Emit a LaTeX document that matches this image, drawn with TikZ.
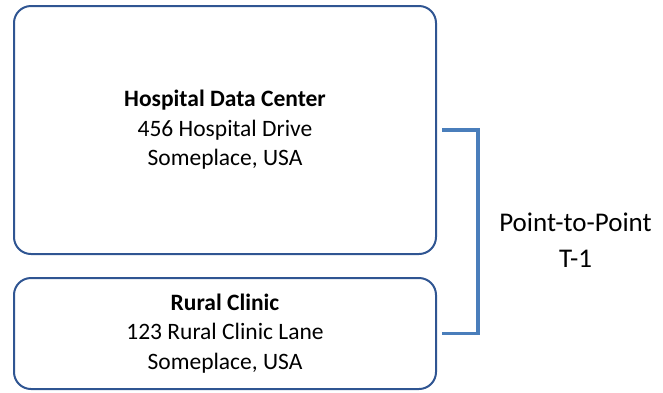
\documentclass[tikz,border=0pt]{standalone}
\usepackage{fontspec}
\setmainfont{Carlito}
\definecolor{boxblue}{HTML}{2F5592}
\definecolor{connblue}{HTML}{4A7EBB}
\begin{document}
\begin{tikzpicture}[x=1pt,y=-1pt,
  sitebox/.style={draw=boxblue,line width=2pt,rounded corners=17pt,
    minimum width=422pt,inner sep=0pt,align=center,
    font=\fontsize{23.5}{29.5}\selectfont},
  conn/.style={draw=connblue,line width=3.8pt},
  lbl/.style={align=center,inner sep=0pt,font=\fontsize{27}{36}\selectfont}]
\useasboundingbox (0,0) rectangle (663,392);
\node[sitebox,minimum height=248pt] (top) at (225,130)
  {\textbf{Hospital Data Center}\\456 Hospital Drive\\Someplace, USA};
\node[sitebox,minimum height=111pt] (bot) at (225,333.5)
  {\textbf{Rural Clinic}\\123 Rural Clinic Lane\\Someplace, USA};
\coordinate (corner) at (478,333.5);
\draw[conn] ([xshift=5pt]top.east) -| (corner) -- ([xshift=5pt]bot.east);
\node[lbl] (link) at (575.5,240) {Point-to-Point\\T-1};
\end{tikzpicture}
\end{document}
